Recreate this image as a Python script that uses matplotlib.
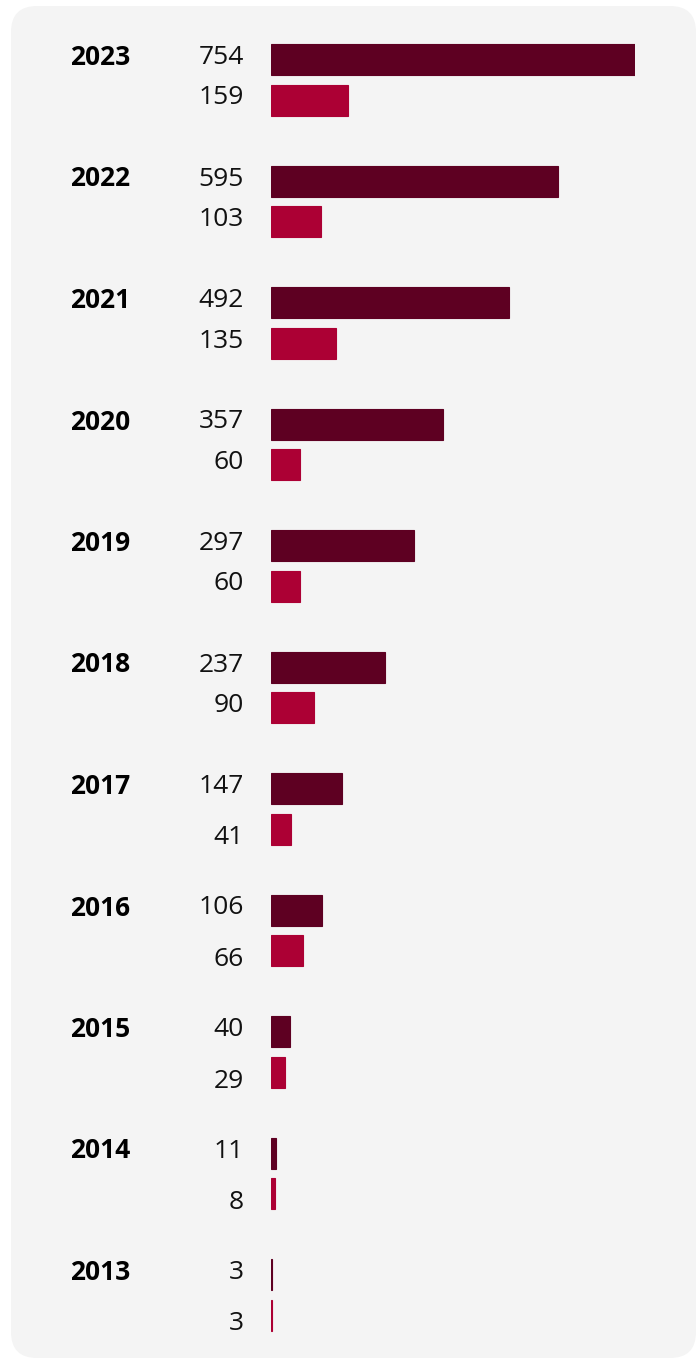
import matplotlib.pyplot as plt
import matplotlib.transforms as mtransforms
from matplotlib.patches import FancyBboxPatch
import numpy as np

plt.rcParams['font.family'] = ['Open Sans', 'DejaVu Sans']

years = ['2023', '2022', '2021', '2020', '2019', '2018', '2017', '2016', '2015', '2014', '2013']
series_a = [754, 595, 492, 357, 297, 237, 147, 106, 40, 11, 3]
series_b = [159, 103, 135, 60, 60, 90, 41, 66, 29, 8, 3]

dark = '#5e0022'
red = '#ac0034'
panel = '#f4f4f4'

W, H, dpi = 700, 1360, 100
fig = plt.figure(figsize=(W / dpi, H / dpi), dpi=dpi, facecolor='white')

# rounded grey panel (pixel coords), behind the axes
box = FancyBboxPatch((11, 2), 685, 1352, boxstyle='round,pad=0,rounding_size=26',
                     transform=None, facecolor=panel, edgecolor='none', zorder=-5)
fig.patches.append(box)

# axes: x from 271px to 635px for 0..754, one group = 121.5px
group = 121.5
first = 59.5
x0, x1 = 271, 635
ax = fig.add_axes([x0 / W, 0, (x1 - x0) / W, 1])
ax.set_xlim(0, max(series_a))
ax.set_ylim((H - first) / group, -first / group)
ax.axis('off')
ax.patch.set_alpha(0)

pos = np.arange(len(years))
off = 40.5 / group
bh = 31 / group
ax.barh(pos, series_a, height=bh, color=dark, edgecolor=dark, linewidth=0.8)
ax.barh(pos + off, series_b, height=bh, color=red, edgecolor=red, linewidth=0.8)

tr = mtransforms.blended_transform_factory(fig.transFigure, ax.transData)
px = 1 / group
for i, y in enumerate(years):
    ax.text(70 / W, i - 2 * px, y, transform=tr, ha='left', va='center',
            fontsize=19, fontweight='bold', color='#000000', clip_on=False)
    ax.text(244 / W, i - 2 * px, str(series_a[i]), transform=tr, ha='right',
            va='center', fontsize=19, color='#111111', clip_on=False)
    dy = -2 if i < 6 else 9
    ax.text(244 / W, i + off + dy * px, str(series_b[i]), transform=tr, ha='right',
            va='center', fontsize=19, color='#111111', clip_on=False)

fig.savefig('out.png', dpi=dpi, facecolor='white')
